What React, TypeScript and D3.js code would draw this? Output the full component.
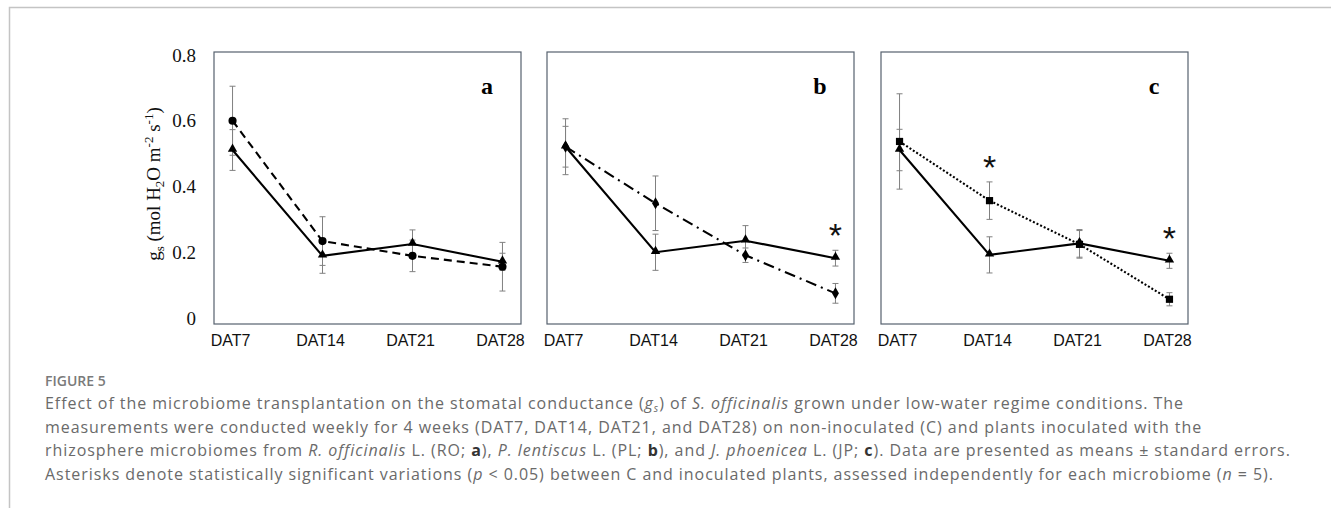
import React from "react";
import * as d3 from "d3";

// categories and axis ticks
const days = ["DAT7", "DAT14", "DAT21", "DAT28"];
const yTicks = [0, 0.2, 0.4, 0.6, 0.8];
const yTickLabels = ["0", "0.2", "0.4", "0.6", "0.8"];

// panel a: control (C) vs R. officinalis (RO)
const controlA = [0.511, 0.189, 0.225, 0.171];
const controlAErr = [0.062, 0.053, 0.043, 0.026];
const roA = [0.6, 0.234, 0.189, 0.156];
const roAErr = [0.105, 0.074, 0.048, 0.074];

// panel b: control (C) vs P. lentiscus (PL)
const controlB = [0.521, 0.2, 0.235, 0.182];
const controlBErr = [0.062, 0.055, 0.046, 0.024];
const plB = [0.521, 0.349, 0.191, 0.075];
const plBErr = [0.085, 0.083, 0.022, 0.03];

// panel c: control (C) vs J. phoenicea (JP)
const controlC = [0.511, 0.192, 0.227, 0.174];
const controlCErr = [0.063, 0.055, 0.042, 0.023];
const jpC = [0.537, 0.357, 0.224, 0.057];
const jpCErr = [0.145, 0.057, 0.042, 0.02];

// days with significant difference (asterisk)
const sigA: string[] = [];
const sigB = ["DAT28"];
const sigC = ["DAT14", "DAT28"];

const panels = [
  { letter: "a", left: 214, control: controlA, controlErr: controlAErr, inoc: roA, inocErr: roAErr, symbol: d3.symbolCircle, size: 52, dash: "8,5", sig: sigA },
  { letter: "b", left: 547, control: controlB, controlErr: controlBErr, inoc: plB, inocErr: plBErr, symbol: d3.symbolDiamond, size: 42, dash: "11,5,2,5", sig: sigB },
  { letter: "c", left: 881, control: controlC, controlErr: controlCErr, inoc: jpC, inocErr: jpCErr, symbol: d3.symbolSquare, size: 52, dash: "2,2", sig: sigC },
];

const W = 1331;
const H = 508;
const frameTop = 52;
const frameBottom = 324;
const panelW = 307;

const yScale = d3.scaleLinear().domain([0, 0.8]).range([318, 55]);

const serif = "'Liberation Serif', 'Times New Roman', serif";
const sans = "'Liberation Sans', Arial, sans-serif";
const capFont = "'Open Sans', sans-serif";

function Panel({ p }: { p: (typeof panels)[number] }) {
  const x = d3.scalePoint<string>().domain(days).range([p.left, p.left + panelW]).padding(0.206);
  const line = d3
    .line<number>()
    .x((_, i) => x(days[i]) as number)
    .y((d) => yScale(d));
  const tri = d3.symbol().type(d3.symbolTriangle).size(38)();
  const mk = d3.symbol().type(p.symbol).size(p.size)();

  const errBars = (vals: number[], errs: number[], key: string) =>
    vals.map((v, i) => {
      const cx = x(days[i]) as number;
      const y1 = yScale(v + errs[i]);
      const y2 = yScale(v - errs[i]);
      return (
        <g key={key + i} stroke="#808080" strokeWidth={1}>
          <line x1={cx} x2={cx} y1={y1} y2={y2} />
          <line x1={cx - 3} x2={cx + 3} y1={y1} y2={y1} />
          <line x1={cx - 3} x2={cx + 3} y1={y2} y2={y2} />
        </g>
      );
    });

  return (
    <g>
      <rect x={p.left} y={frameTop} width={panelW} height={frameBottom - frameTop} fill="none" stroke="#56616e" strokeWidth={1.2} />
      {days.map((d) => (
        <text key={d} x={(x(d) as number) - 2} y={346} textAnchor="middle" fontFamily={sans} fontSize={16} fill="#111">
          {d}
        </text>
      ))}
      {errBars(p.inoc, p.inocErr, "i")}
      {errBars(p.control, p.controlErr, "c")}
      <path d={line(p.control) || ""} fill="none" stroke="#000" strokeWidth={2.1} />
      <path d={line(p.inoc) || ""} fill="none" stroke="#000" strokeWidth={2.1} strokeDasharray={p.dash} />
      {p.control.map((v, i) => (
        <path key={"t" + i} d={tri || ""} transform={`translate(${x(days[i])},${yScale(v) - 1})`} fill="#000" />
      ))}
      {p.inoc.map((v, i) => (
        <path key={"m" + i} d={mk || ""} transform={`translate(${x(days[i])},${yScale(v)})`} fill="#000" />
      ))}
      {p.sig.map((d) => {
        const i = days.indexOf(d);
        const top = Math.max(p.control[i] + p.controlErr[i], p.inoc[i] + p.inocErr[i]);
        return (
          <text key={"s" + d} x={x(d)} y={yScale(top) - 3} textAnchor="middle" fontFamily={sans} fontSize={34} fill="#111">
            *
          </text>
        );
      })}
      <text x={p.left + panelW - 34} y={94} textAnchor="middle" fontFamily={serif} fontWeight="bold" fontSize={24} fill="#000">
        {p.letter}
      </text>
    </g>
  );
}

export default function App() {
  return (
    <svg width={W} height={H} style={{ position: "absolute", left: 0, top: 0, background: "#fff" }}>
      <rect width={W} height={H} fill="#fff" />
      <path d={`M9.5,${H} V7.5 H${W}`} fill="none" stroke="#c4c4c4" strokeWidth={1.5} />

      {yTicks.map((t, i) => (
        <text key={t} x={196} y={yScale(t) + 6.5} textAnchor="end" fontFamily={serif} fontSize={19} fill="#111">
          {yTickLabels[i]}
        </text>
      ))}
      <text transform="translate(160,184) rotate(-90)" textAnchor="middle" fontFamily={serif} fontSize={19} fill="#111">
        g<tspan fontSize={13} dy={4}>s</tspan>
        <tspan dy={-4}> (mol H</tspan>
        <tspan fontSize={13} dy={4}>2</tspan>
        <tspan dy={-4}>O m</tspan>
        <tspan fontSize={13} dy={-7}>-2</tspan>
        <tspan dy={7}> s</tspan>
        <tspan fontSize={13} dy={-7}>-1</tspan>
        <tspan dy={7}>)</tspan>
      </text>

      {panels.map((p) => (
        <Panel key={p.letter} p={p} />
      ))}

      <g fontFamily={capFont} fill="#6a6a6a">
        <text x={45} y={386} fontSize={14} fontWeight={600} fill="#7a7a7a">
          FIGURE 5
        </text>
        <g fontSize={16} letterSpacing={0.95}>
          <text x={45} y={409}>
            Effect of the microbiome transplantation on the stomatal conductance (<tspan fontStyle="italic">g</tspan>
            <tspan fontStyle="italic" fontSize={10} dy={3}>s</tspan>
            <tspan dy={-3}>) of </tspan>
            <tspan fontStyle="italic">S. officinalis</tspan> grown under low-water regime conditions. The
          </text>
          <text x={45} y={432.5}>
            measurements were conducted weekly for 4 weeks (DAT7, DAT14, DAT21, and DAT28) on non-inoculated (C) and plants inoculated with the
          </text>
          <text x={45} y={456}>
            rhizosphere microbiomes from <tspan fontStyle="italic">R. officinalis</tspan> L. (RO; <tspan fontWeight="bold" fill="#333">a</tspan>),{" "}
            <tspan fontStyle="italic">P. lentiscus</tspan> L. (PL; <tspan fontWeight="bold" fill="#333">b</tspan>), and{" "}
            <tspan fontStyle="italic">J. phoenicea</tspan> L. (JP; <tspan fontWeight="bold" fill="#333">c</tspan>). Data are presented as means ± standard errors.
          </text>
          <text x={45} y={479.5}>
            Asterisks denote statistically significant variations (<tspan fontStyle="italic">p</tspan> &lt; 0.05) between C and inoculated plants,
            assessed independently for each microbiome (<tspan fontStyle="italic">n</tspan> = 5).
          </text>
        </g>
      </g>
    </svg>
  );
}
